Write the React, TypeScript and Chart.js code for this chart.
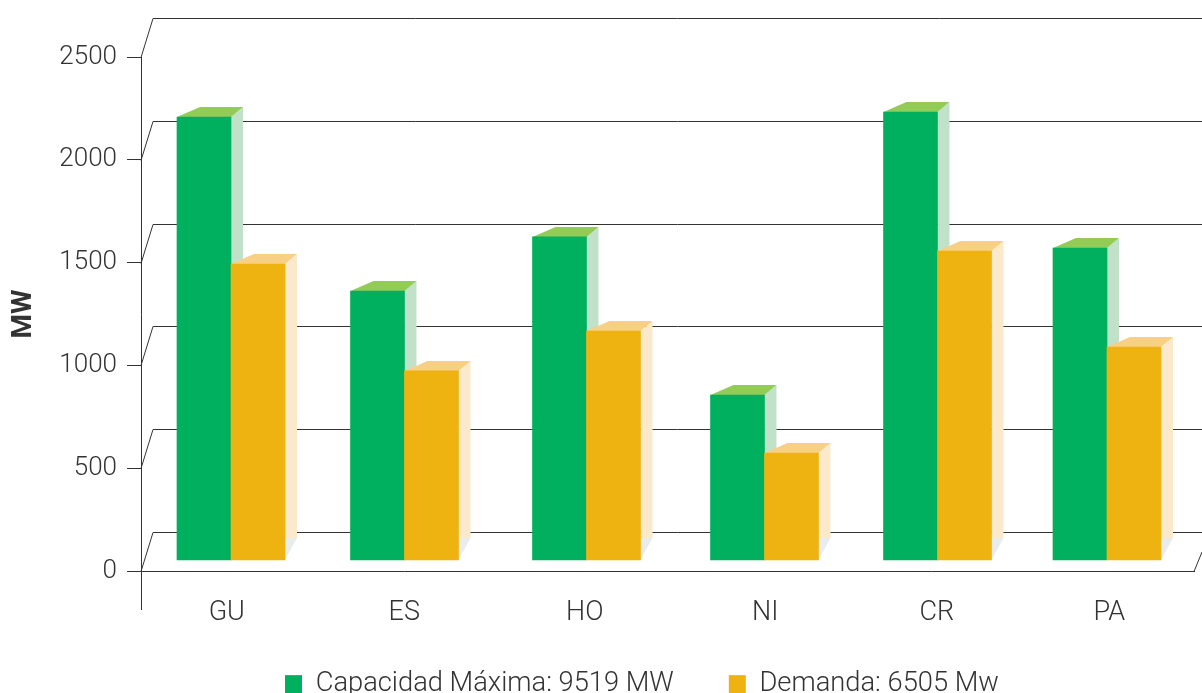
import React, { useEffect, useRef } from "react";
import { Chart, registerables, CategoryScale } from "chart.js";

const categories = ["GU", "ES", "HO", "NI", "CR", "PA"];
const capacidadTop = [2208, 1362, 1625, 856, 2232, 1571];
const demandaTop = [1493, 973, 1167, 574, 1556, 1089];
const floorValue = 53.5;
const capacidadLabel = "Capacidad Máxima: 9519 MW";
const demandaLabel = "Demanda: 6505 Mw";

const BAR_NUDGE = [2.25, 0.25, 6.75, 9.25, 6.75, 0.75];
const TICK_NUDGE = [-2, 0, 5, 10, 6, 3];
const INK = "#333333";
const FONT = "Roboto";

class NudgedCategoryScale extends CategoryScale {
  static id = "nudgedCategory";
  static defaults = CategoryScale.defaults;
  getPixelForValue(value: any) {
    const p = super.getPixelForValue(value);
    const n = typeof value === "number" ? BAR_NUDGE[Math.round(value)] || 0 : 0;
    return p + n;
  }
  getPixelForTick(index: number) {
    const tick = (this as any).ticks[index];
    const p = super.getPixelForValue(tick.value);
    return p + (TICK_NUDGE[index] || 0);
  }
}

Chart.register(...registerables, NudgedCategoryScale as any);

const faces = [
  { top: "#92CB56", side: "#C1E1C8" },
  { top: "#F7D086", side: "#FBE9CC" },
];

const WALL_DX = 12;
const WALL_DY = 39;

function drawFaces(chart: any, index: number) {
  const { ctx } = chart;
  const meta = chart.getDatasetMeta(index);
  const f = faces[index];
  ctx.save();
  meta.data.forEach((bar: any) => {
    const p = bar.getProps(["x", "y", "base", "width"], true);
    const x0 = p.x - p.width / 2;
    const x1 = p.x + p.width / 2;
    const dx = 12;
    const dy = 10;
    const backBottom = p.base - 22;
    ctx.fillStyle = "#E9ECEC";
    ctx.beginPath();
    ctx.moveTo(x1, p.base);
    ctx.lineTo(x1 + dx, backBottom);
    ctx.lineTo(x1, backBottom);
    ctx.closePath();
    ctx.fill();
    ctx.fillStyle = f.side;
    ctx.beginPath();
    ctx.moveTo(x1, p.y);
    ctx.lineTo(x1 + dx, p.y - dy);
    ctx.lineTo(x1 + dx, backBottom);
    ctx.lineTo(x1, backBottom);
    ctx.closePath();
    ctx.fill();
    ctx.fillStyle = f.top;
    ctx.beginPath();
    ctx.moveTo(x0, p.y);
    ctx.lineTo(x0 + 23, p.y - dy);
    ctx.lineTo(x1 + dx, p.y - dy);
    ctx.lineTo(x1, p.y);
    ctx.closePath();
    ctx.fill();
  });
  ctx.restore();
}

const wallPlugin = {
  id: "wall",
  beforeLayout(chart: any) {
    const lg = chart.legend;
    if (lg && !lg.__patched) {
      lg.__patched = true;
      const orig = lg.fit;
      lg.fit = function () {
        orig.call(this);
        this.height = 0;
      };
    }
  },
  beforeDraw(chart: any) {
    const lg = chart.legend;
    if (lg) {
      lg.left = 230;
      lg.right = 1202;
      lg.top = 616;
      lg.bottom = 693;
    }
  },
  beforeDatasetsDraw(chart: any) {
    const { ctx, scales, width } = chart;
    const y = scales.y;
    const x = scales.x;
    ctx.save();
    ctx.strokeStyle = INK;
    ctx.lineWidth = 1;
    y.ticks.forEach((t: any) => {
      const py = Math.round(y.getPixelForValue(t.value)) + 0.5;
      ctx.beginPath();
      ctx.moveTo(y.right, py);
      ctx.lineTo(y.right + WALL_DX, py - WALL_DY);
      ctx.lineTo(width, py - WALL_DY);
      ctx.stroke();
    });
    ctx.beginPath();
    ctx.moveTo(y.right + 0.5, y.bottom);
    ctx.lineTo(y.right + 0.5, 610);
    ctx.stroke();
    ctx.beginPath();
    ctx.moveTo(x.right, y.bottom + 0.5);
    ctx.lineTo(width, y.bottom - 19);
    ctx.stroke();
    ctx.restore();
  },
  // Chart.js paints the first dataset last; the amber series has to sit on top.
  beforeDatasetDraw(chart: any, args: any) {
    if (args.index === 1) return false;
    drawFaces(chart, 0);
  },
  afterDatasetDraw(chart: any, args: any) {
    if (args.index !== 0) return;
    drawFaces(chart, 1);
    chart.getDatasetMeta(1).controller.draw();
  },
};

export default function App() {
  const ref = useRef<HTMLCanvasElement | null>(null);
  useEffect(() => {
    const chart = new Chart(ref.current as HTMLCanvasElement, {
      type: "bar",
      data: {
        labels: categories,
        datasets: [
          {
            label: capacidadLabel,
            data: capacidadTop,
            base: floorValue,
            backgroundColor: "#00B05E",
            barThickness: 54,
          },
          {
            label: demandaLabel,
            data: demandaTop,
            base: floorValue,
            backgroundColor: "#EEB211",
            barThickness: 54,
          },
        ] as any,
      },
      options: {
        animation: false,
        responsive: false,
        layout: { padding: { top: 57, right: 8, left: 0, bottom: 0 } },
        plugins: {
          tooltip: { enabled: false },
          legend: {
            position: "bottom",
            align: "start",
            labels: {
              boxWidth: 17,
              boxHeight: 19,
              padding: 55,
              color: INK,
              font: { family: FONT, size: 27.3, weight: "300" as any },
            },
          },
        },
        scales: {
          x: {
            type: "nudgedCategory" as any,
            offset: true,
            grid: { display: false },
            border: { color: INK, width: 1 },
            ticks: { color: INK, font: { family: FONT, size: 27, weight: "300" as any }, padding: 18, maxRotation: 0 },
            afterFit(scale: any) {
              scale.height = 693 - 571;
            },
          },
          y: {
            min: 0,
            max: 2500,
            ticks: {
              stepSize: 500,
              color: INK,
              font: { family: FONT, size: 26, weight: "300" as any },
              padding: 10,
              callback: (v: any) => String(v),
            },
            grid: { drawOnChartArea: false, drawTicks: true, tickLength: 14, color: INK },
            border: { color: INK, width: 1 },
            title: {
              display: true,
              text: "MW",
              color: INK,
              font: { family: FONT, size: 28, weight: "bold" as any },
              padding: { top: 7, bottom: 0 },
            },
            afterFit(scale: any) {
              scale.width = 141;
            },
          },
        },
      },
      plugins: [wallPlugin],
    } as any);
    return () => chart.destroy();
  }, []);
  return (
    <div style={{ position: "absolute", left: 0, top: 0, width: 1202, height: 693, overflow: "hidden", background: "#fff" }}>
      <canvas ref={ref} width={1202} height={693} style={{ display: "block" }} />
    </div>
  );
}
